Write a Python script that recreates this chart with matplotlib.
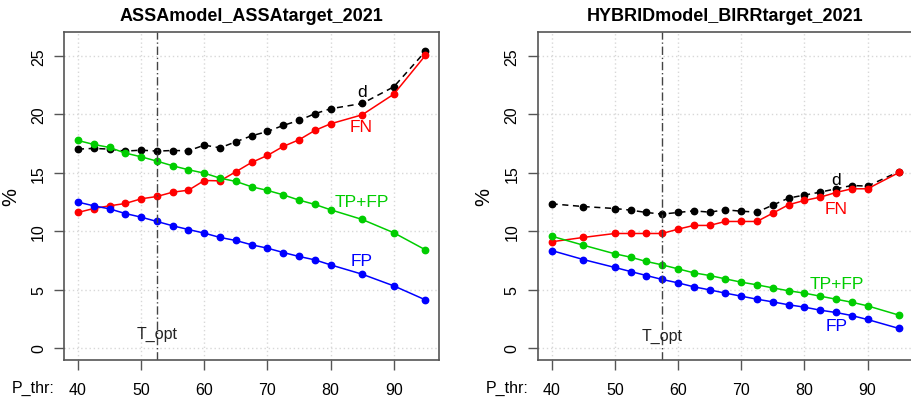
import matplotlib
matplotlib.use("Agg")
import matplotlib.pyplot as plt

plt.rcParams['font.family'] = ['Liberation Sans', 'DejaVu Sans']

# ---- data: ASSA model / ASSA target ----
thr_assa = [40, 42.5, 45, 47.5, 50, 52.5, 55, 57.5, 60, 62.5, 65, 67.5, 70,
            72.5, 75, 77.5, 80, 85, 90, 95]
d_assa = [17.03, 17.09, 17.03, 16.86, 16.94, 16.86, 16.91, 16.89, 17.37, 17.14,
          17.66, 18.17, 18.54, 19.06, 19.49, 20.06, 20.49, 20.94, 22.37, 25.4]
fn_assa = [11.6, 11.94, 12.17, 12.37, 12.77, 12.97, 13.34, 13.51, 14.34, 14.31,
           15.09, 15.89, 16.49, 17.26, 17.83, 18.63, 19.2, 19.97, 21.74, 25.06]
tpfp_assa = [17.77, 17.43, 17.17, 16.69, 16.37, 16.0, 15.6, 15.26, 14.97, 14.54,
             14.26, 13.8, 13.49, 13.11, 12.66, 12.29, 11.83, 11.0, 9.86, 8.4]
fp_assa = [12.49, 12.17, 11.91, 11.51, 11.2, 10.83, 10.46, 10.14, 9.83, 9.46,
           9.2, 8.83, 8.54, 8.17, 7.83, 7.54, 7.11, 6.31, 5.31, 4.11]
topt_assa = 52.5

# ---- data: HYBRID model / BIRR target ----
thr_hyb = [40, 45, 50, 52.5, 55, 57.5, 60, 62.5, 65, 67.5, 70, 72.5, 75, 77.5,
           80, 82.5, 85, 87.5, 90, 95]
d_hyb = [12.34, 12.11, 11.94, 11.8, 11.6, 11.46, 11.6, 11.74, 11.63, 11.83,
         11.71, 11.63, 12.23, 12.83, 13.09, 13.34, 13.63, 13.91, 13.86, 15.11]
fn_hyb = [9.09, 9.46, 9.8, 9.8, 9.8, 9.8, 10.17, 10.49, 10.49, 10.83, 10.83,
          10.83, 11.54, 12.26, 12.63, 12.91, 13.31, 13.63, 13.63, 15.03]
tpfp_hyb = [9.57, 8.8, 8.06, 7.77, 7.4, 7.11, 6.77, 6.43, 6.2, 5.91, 5.63, 5.4,
            5.14, 4.89, 4.69, 4.43, 4.17, 3.91, 3.6, 2.8]
fp_hyb = [8.34, 7.57, 6.89, 6.54, 6.2, 5.86, 5.57, 5.23, 4.97, 4.69, 4.43, 4.17,
          3.94, 3.69, 3.49, 3.23, 3.03, 2.77, 2.43, 1.66]
topt_hyb = 57.5

xticks = [40, 50, 60, 70, 80, 90]
yticks = [0, 5, 10, 15, 20, 25]

GREEN = '#00cd00'


def panel(ax, title, thr, d, fn, tpfp, fp, topt, lab):
    # dotted background grid at the tick positions
    for x in xticks:
        ax.axvline(x, color='#d8d8d8', lw=1, ls=(0, (1, 2)), zorder=0)
    for y in yticks:
        ax.axhline(y, color='#d8d8d8', lw=1, ls=(0, (1, 2)), zorder=0)

    ax.plot(thr, d, color='black', ls=(0, (4, 3)), lw=1.1, marker='o', ms=4.6)
    ax.plot(thr, fn, color='red', lw=1.1, marker='o', ms=4.6)
    ax.plot(thr, tpfp, color=GREEN, lw=1.1, marker='o', ms=4.6)
    ax.plot(thr, fp, color='blue', lw=1.1, marker='o', ms=4.6)

    ax.axvline(topt, color='#444444', lw=1, ls=(0, (6, 2, 1, 2)))
    ax.text(topt, lab['topt'], 'T_opt', ha='center', va='center', fontsize=11.5,
            color='#222222')

    ax.text(lab['x'], lab['d'], 'd', ha='center', va='center', fontsize=12.5,
            color='black')
    ax.text(lab['x'], lab['fn'], 'FN', ha='center', va='center', fontsize=12.5,
            color='red')
    ax.text(lab['x'], lab['tpfp'], 'TP+FP', ha='center', va='center',
            fontsize=12.5, color=GREEN)
    ax.text(lab['x'], lab['fp'], 'FP', ha='center', va='center', fontsize=12.5,
            color='blue')

    ax.set_xlim(37.8, 97.2)
    ax.set_ylim(-1.04, 27.04)
    ax.set_xticks(xticks)
    ax.set_yticks(yticks)
    ax.set_yticklabels([str(v) for v in yticks], rotation=90, va='center')
    ax.tick_params(direction='out', length=7, width=1, color='#555555',
                   labelsize=11.5, pad=6)
    ax.tick_params(axis='x', pad=9)
    for s in ax.spines.values():
        s.set_color('#555555')
        s.set_linewidth(1.2)
    ax.set_ylabel('%', fontsize=14.5, labelpad=8)
    ax.set_title(title, fontsize=13, fontweight='bold', pad=9)


fig = plt.figure(figsize=(9.12, 4.02), dpi=100)
ax1 = fig.add_axes([0.0702, 0.102, 0.4115, 0.8152])
ax2 = fig.add_axes([0.5896, 0.102, 0.4115, 0.8152])

panel(ax1, 'ASSAmodel_ASSAtarget_2021', thr_assa, d_assa, fn_assa, tpfp_assa,
      fp_assa, topt_assa,
      {'x': 84.9, 'd': 22.0, 'fn': 19.0, 'tpfp': 12.5, 'fp': 7.5, 'topt': 1.2})
panel(ax2, 'HYBRIDmodel_BIRRtarget_2021', thr_hyb, d_hyb, fn_hyb, tpfp_hyb,
      fp_hyb, topt_hyb,
      {'x': 85.1, 'd': 14.45, 'fn': 11.95, 'tpfp': 5.5, 'fp': 1.95, 'topt': 1.1})

fig.text(33 / 912, 1 - 388 / 402, 'P_thr:', ha='center', va='center', fontsize=11.5)
fig.text(507 / 912, 1 - 388 / 402, 'P_thr:', ha='center', va='center', fontsize=11.5)

fig.savefig('out.png', dpi=100)
